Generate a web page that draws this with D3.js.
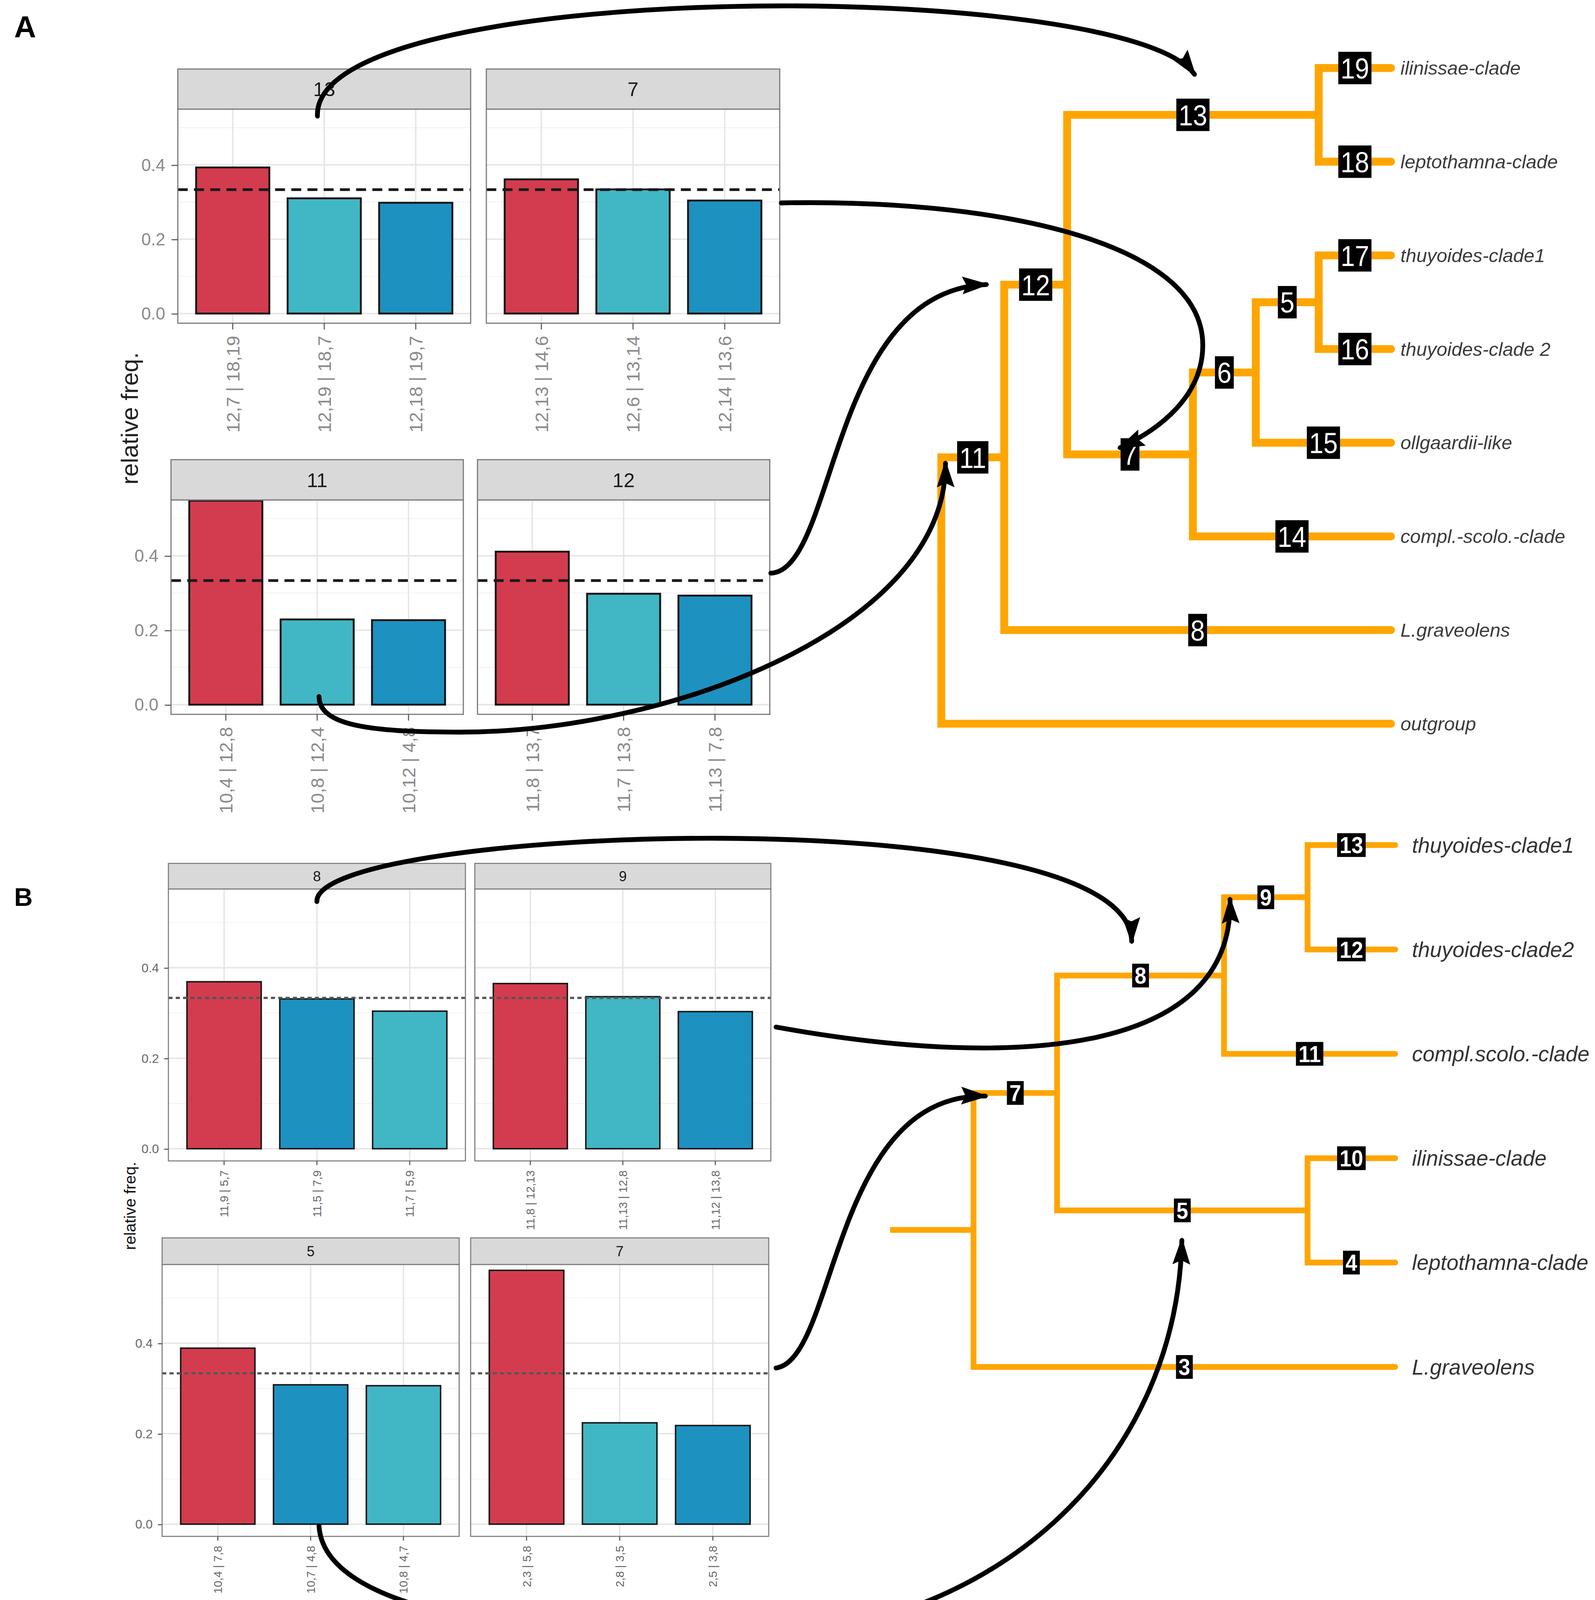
<!DOCTYPE html>
<html><head><meta charset="utf-8">
<script src="https://cdn.jsdelivr.net/npm/d3@7"></script>
<style>html,body{margin:0;padding:0;background:#fff}svg{display:block}</style>
</head><body>
<svg id="chart" width="4083" height="4202" viewBox="0 0 1525 1569.4"></svg>
<script>
// ================= DATA =================
const expectedFreq = 1 / 3;
const yTicks = [0, 0.2, 0.4];
const yMinorTicks = [0.1, 0.3, 0.5];

// Panel A bar facets
const titlesA = ["13", "7", "11", "12"];
const labelsA = [
  ["12,7 | 18,19", "12,19 | 18,7", "12,18 | 19,7"],
  ["12,13 | 14,6", "12,6 | 13,14", "12,14 | 13,6"],
  ["10,4 | 12,8", "10,8 | 12,4", "10,12 | 4,8"],
  ["11,8 | 13,7", "11,7 | 13,8", "11,13 | 7,8"]
];
const valuesA = [
  [0.393, 0.310, 0.298],
  [0.361, 0.334, 0.304],
  [0.548, 0.229, 0.227],
  [0.411, 0.298, 0.293]
];
const seriesA = [
  ["red", "cyan", "blue"],
  ["red", "cyan", "blue"],
  ["red", "cyan", "blue"],
  ["red", "cyan", "blue"]
];

// Panel B bar facets
const titlesB = ["8", "9", "5", "7"];
const labelsB = [
  ["11,9 | 5,7", "11,5 | 7,9", "11,7 | 5,9"],
  ["11,8 | 12,13", "11,13 | 12,8", "11,12 | 13,8"],
  ["10,4 | 7,8", "10,7 | 4,8", "10,8 | 4,7"],
  ["2,3 | 5,8", "2,8 | 3,5", "2,5 | 3,8"]
];
const valuesB = [
  [0.369, 0.331, 0.304],
  [0.365, 0.336, 0.303],
  [0.389, 0.308, 0.306],
  [0.561, 0.224, 0.218]
];
const seriesB = [
  ["red", "blue", "cyan"],
  ["red", "cyan", "blue"],
  ["red", "blue", "cyan"],
  ["red", "cyan", "blue"]
];

// Trees: parent links, branch-end distance (dist), branch label, tip name
const treeA = [
  { id: "root", parent: null, dist: 0 },
  { id: "n11", parent: "root", dist: 1, label: "11" },
  { id: "n12", parent: "n11", dist: 2, label: "12" },
  { id: "n13", parent: "n12", dist: 6, label: "13" },
  { id: "t19", parent: "n13", label: "19", name: "ilinissae-clade" },
  { id: "t18", parent: "n13", label: "18", name: "leptothamna-clade" },
  { id: "n7", parent: "n12", dist: 4, label: "7" },
  { id: "n6", parent: "n7", dist: 5, label: "6" },
  { id: "n5", parent: "n6", dist: 6, label: "5" },
  { id: "t17", parent: "n5", label: "17", name: "thuyoides-clade1" },
  { id: "t16", parent: "n5", label: "16", name: "thuyoides-clade 2" },
  { id: "t15", parent: "n6", label: "15", name: "ollgaardii-like" },
  { id: "t14", parent: "n7", label: "14", name: "compl.-scolo.-clade" },
  { id: "t8", parent: "n11", label: "8", name: "L.graveolens" },
  { id: "tout", parent: "root", name: "outgroup" }
];
const treeB = [
  { id: "root", parent: null, dist: 1 },
  { id: "n7", parent: "root", dist: 2, label: "7" },
  { id: "n8", parent: "n7", dist: 4, label: "8" },
  { id: "n9", parent: "n8", dist: 5, label: "9" },
  { id: "t13", parent: "n9", label: "13", name: "thuyoides-clade1" },
  { id: "t12", parent: "n9", label: "12", name: "thuyoides-clade2" },
  { id: "t11", parent: "n8", label: "11", name: "compl.scolo.-clade" },
  { id: "n5", parent: "n7", dist: 5, label: "5" },
  { id: "t10", parent: "n5", label: "10", name: "ilinissae-clade" },
  { id: "t4", parent: "n5", label: "4", name: "leptothamna-clade" },
  { id: "t3", parent: "root", label: "3", name: "L.graveolens" }
];

// ================= STYLE / LAYOUT =================
const colors = { red: "#D33C4E", cyan: "#41B6C4", blue: "#1D91C0" };
const FONT = "'Liberation Sans', Arial, Helvetica, sans-serif";

const layoutA = [
  { x0: 170, x1: 450, top: 66, strip: 104.3, bottom: 309, yAxis: true },
  { x0: 465, x1: 745.5, top: 66, strip: 104.3, bottom: 309, yAxis: false },
  { x0: 163.5, x1: 443, top: 439.5, strip: 478, bottom: 683, yAxis: true },
  { x0: 456.5, x1: 736, top: 439.5, strip: 478, bottom: 683, yAxis: false }
];
const layoutB = [
  { x0: 161, x1: 445, top: 825.5, strip: 850, bottom: 1110, yAxis: true },
  { x0: 454, x1: 737, top: 825.5, strip: 850, bottom: 1110, yAxis: false },
  { x0: 155, x1: 439, top: 1183.6, strip: 1209, bottom: 1469, yAxis: true },
  { x0: 450, x1: 735, top: 1183.6, strip: 1209, bottom: 1469, yAxis: false }
];
const styleA = {
  domain: [-0.026, 0.55], barStroke: 1.8, border: 1.1,
  stripFont: 19, yFont: 16.5, xFont: 17.6, xTick: 6, xPad: 6, yTick: 6, yPad: 6,
  tickColor: "#8a8a8a", dash: "9.5,6", dashW: 2.6, dashColor: "#1a1a1a"
};
const styleB = {
  domain: [-0.027, 0.574], barStroke: 1.4, border: 1,
  stripFont: 13.5, yFont: 12, xFont: 11, xTick: 4, xPad: 5, yTick: 4, yPad: 5,
  tickColor: "#666", dash: "4,3", dashW: 2.1, dashColor: "#555"
};
const treeStyleA = {
  xRange: [900, 1330], tipDist: 7.15, yRange: [65, 692], lineW: 7.5, stem: false,
  boxH: 31, boxFont: 28, boxWeight: "normal", boxSx: 0.88, boxPad: 4.3,
  leafFont: 18.3, leafDx: 9, leafColor: "#3a3a3a"
};
const treeStyleB = {
  xRange: [851, 1334], tipDist: 6.05, yRange: [808, 1307], lineW: 5.5, stem: true,
  boxH: 22.7, boxFont: 22, boxWeight: "bold", boxSx: 0.92, boxPad: 4.8,
  leafFont: 20.5, leafDx: 16, leafColor: "#333"
};
const ORANGE = "#FFA500";

// annotation arrows: start point, then cubic segments (ctrl1, ctrl2, end)
const arrows = [
  [[303.5, 111], [298, -22], [1075, -22], [1142, 71]],
  [[747, 194], [950, 190], [1150, 230], [1150, 330], [1150, 378], [1110, 410], [1071, 428]],
  [[737, 548], [800, 545], [792, 278], [943, 272]],
  [[305, 666], [305, 695], [360, 700], [440, 700], [640, 700], [905, 600], [904, 443]],
  [[303, 862], [300, 790], [1080, 760], [1082, 900]],
  [[742, 982], [980, 1025], [1180, 1005], [1176, 860]],
  [[742, 1308], [800, 1300], [795, 1045], [942, 1048]],
  [[305, 1459], [310, 1540], [500, 1566], [700, 1566], [950, 1566], [1125, 1400], [1130, 1186]]
];

// ================= DRAW =================
const svg = d3.select("#chart");
svg.append("rect").attr("width", 1525).attr("height", 1569.4).attr("fill", "#fff");

const defs = svg.append("defs");
defs.append("marker").attr("id", "ah")
  .attr("viewBox", "0 -9 26 18").attr("refX", 23).attr("refY", 0)
  .attr("markerWidth", 26).attr("markerHeight", 18)
  .attr("markerUnits", "userSpaceOnUse").attr("orient", "auto")
  .append("path").attr("d", "M0,-8.5L26,0L0,8.5L4,0Z").attr("fill", "#000");

function drawFacet(root, lay, title, labels, values, series, st) {
  const g = root.append("g");
  const x = d3.scaleBand().domain(labels).range([lay.x0, lay.x1]).paddingInner(0.2).paddingOuter(0.2);
  const y = d3.scaleLinear().domain(st.domain).range([lay.bottom, lay.strip]);
  const W = lay.x1 - lay.x0;

  g.append("rect").attr("x", lay.x0).attr("y", lay.strip).attr("width", W)
    .attr("height", lay.bottom - lay.strip).attr("fill", "#fff");
  g.selectAll("line.gmin").data(yMinorTicks).join("line").attr("class", "gmin")
    .attr("x1", lay.x0).attr("x2", lay.x1).attr("y1", d => y(d)).attr("y2", d => y(d))
    .attr("stroke", "#f2f2f2").attr("stroke-width", 0.8);
  g.selectAll("line.gmaj").data(yTicks).join("line").attr("class", "gmaj")
    .attr("x1", lay.x0).attr("x2", lay.x1).attr("y1", d => y(d)).attr("y2", d => y(d))
    .attr("stroke", "#e6e6e6").attr("stroke-width", 1.4);
  g.selectAll("line.gx").data(labels).join("line").attr("class", "gx")
    .attr("x1", d => x(d) + x.bandwidth() / 2).attr("x2", d => x(d) + x.bandwidth() / 2)
    .attr("y1", lay.strip).attr("y2", lay.bottom)
    .attr("stroke", "#e6e6e6").attr("stroke-width", 1.4);

  const rows = labels.map((lab, i) => ({ lab, v: values[i], s: series[i] }));
  g.selectAll("rect.bar").data(rows).join("rect").attr("class", "bar")
    .attr("x", d => x(d.lab)).attr("width", x.bandwidth())
    .attr("y", d => y(d.v)).attr("height", d => y(0) - y(d.v))
    .attr("fill", d => colors[d.s]).attr("stroke", "#151515").attr("stroke-width", st.barStroke);

  g.append("line").attr("x1", lay.x0).attr("x2", lay.x1)
    .attr("y1", y(expectedFreq)).attr("y2", y(expectedFreq))
    .attr("stroke", st.dashColor).attr("stroke-width", st.dashW).attr("stroke-dasharray", st.dash);

  g.append("rect").attr("x", lay.x0).attr("y", lay.strip).attr("width", W)
    .attr("height", lay.bottom - lay.strip).attr("fill", "none")
    .attr("stroke", "#7a7a7a").attr("stroke-width", st.border);

  // strip
  g.append("rect").attr("x", lay.x0).attr("y", lay.top).attr("width", W)
    .attr("height", lay.strip - lay.top).attr("fill", "#d9d9d9")
    .attr("stroke", "#7a7a7a").attr("stroke-width", st.border);
  g.append("text").attr("x", (lay.x0 + lay.x1) / 2).attr("y", (lay.top + lay.strip) / 2)
    .attr("dy", "0.36em").attr("text-anchor", "middle")
    .attr("font-family", FONT).attr("font-size", st.stripFont).attr("fill", "#1a1a1a").text(title);

  // x axis
  const ax = g.append("g").attr("transform", `translate(0,${lay.bottom})`)
    .call(d3.axisBottom(x).tickSize(st.xTick).tickPadding(0));
  ax.select(".domain").remove();
  ax.attr("font-family", FONT).attr("font-size", st.xFont);
  ax.selectAll(".tick line").attr("stroke", "#555").attr("stroke-width", 1);
  ax.selectAll(".tick text")
    .attr("transform", "rotate(-90)")
    .attr("x", -(st.xTick + st.xPad)).attr("y", 0).attr("dy", "0.36em")
    .attr("text-anchor", "end").attr("fill", st.tickColor);

  if (lay.yAxis) {
    const ay = g.append("g").attr("transform", `translate(${lay.x0},0)`)
      .call(d3.axisLeft(y).tickValues(yTicks).tickFormat(d3.format(".1f")).tickSize(st.yTick).tickPadding(st.yPad));
    ay.select(".domain").remove();
    ay.attr("font-family", FONT).attr("font-size", st.yFont);
    ay.selectAll(".tick line").attr("stroke", "#555").attr("stroke-width", 1);
    ay.selectAll(".tick text").attr("fill", st.tickColor);
  }
}

const gA = svg.append("g");
layoutA.forEach((lay, i) => drawFacet(gA, lay, titlesA[i], labelsA[i], valuesA[i], seriesA[i], styleA));
const gB = svg.append("g");
layoutB.forEach((lay, i) => drawFacet(gB, lay, titlesB[i], labelsB[i], valuesB[i], seriesB[i], styleB));

// y axis titles
svg.append("text").attr("transform", "translate(132,400) rotate(-90)")
  .attr("text-anchor", "middle").attr("font-family", FONT).attr("font-size", 23)
  .attr("fill", "#222").text("relative freq.");
svg.append("text").attr("transform", "translate(129.5,1153) rotate(-90)")
  .attr("text-anchor", "middle").attr("font-family", FONT).attr("font-size", 15.3)
  .attr("fill", "#111").text("relative freq.");

// panel letters
svg.append("text").attr("x", 13.5).attr("y", 36).attr("font-family", FONT)
  .attr("font-weight", "bold").attr("font-size", 29).text("A");
svg.append("text").attr("x", 13.5).attr("y", 866).attr("font-family", FONT)
  .attr("font-weight", "bold").attr("font-size", 24.5).text("B");

function drawTree(root, data, ts) {
  const h = d3.stratify().id(d => d.id).parentId(d => d.parent)(data);
  const leaves = h.leaves();
  const y = d3.scalePoint().domain(leaves.map(d => d.id)).range(ts.yRange);
  const x = d3.scaleLinear().domain([0, ts.tipDist]).range(ts.xRange);
  h.eachAfter(n => {
    n.px = x(n.children ? n.data.dist : ts.tipDist);
    n.py = n.children ? (n.children[0].py + n.children[n.children.length - 1].py) / 2 : y(n.id);
  });
  const g = root.append("g");
  const links = h.descendants().filter(n => n.parent);
  g.selectAll("path.br").data(links).join("path").attr("class", "br")
    .attr("d", n => `M${n.parent.px},${n.parent.py}V${n.py}H${n.px}`)
    .attr("fill", "none").attr("stroke", ORANGE).attr("stroke-width", ts.lineW)
    .attr("stroke-linejoin", "miter").attr("stroke-linecap", "round");
  if (ts.stem) {
    g.append("path").attr("d", `M${x(0)},${h.py}H${h.px}`)
      .attr("fill", "none").attr("stroke", ORANGE).attr("stroke-width", ts.lineW).attr("stroke-linecap", "butt");
  }
  // branch labels
  const lab = g.selectAll("g.nl").data(links.filter(n => n.data.label)).join("g").attr("class", "nl");
  lab.each(function (n) {
    const cx = (n.parent.px + n.px) / 2, cy = n.py;
    const sel = d3.select(this);
    const t = sel.append("text")
      .attr("transform", `translate(${cx},${cy + ts.boxFont * 0.358}) scale(${ts.boxSx},1)`)
      .attr("text-anchor", "middle").attr("font-family", FONT).attr("font-weight", ts.boxWeight)
      .attr("font-size", ts.boxFont).attr("fill", "#fff").text(n.data.label);
    const w = t.node().getComputedTextLength() * ts.boxSx + ts.boxPad;
    sel.insert("rect", "text").attr("x", cx - w / 2).attr("y", cy - ts.boxH / 2)
      .attr("width", w).attr("height", ts.boxH).attr("fill", "#000");
  });
  // tip labels
  g.selectAll("text.tip").data(leaves).join("text").attr("class", "tip")
    .attr("x", n => n.px + ts.leafDx).attr("y", n => n.py).attr("dy", "0.35em")
    .attr("font-family", FONT).attr("font-style", "italic").attr("font-size", ts.leafFont)
    .attr("fill", ts.leafColor).text(n => n.data.name);
}
drawTree(svg, treeA, treeStyleA);
drawTree(svg, treeB, treeStyleB);

// arrows (cubic bezier annotations)
function arrowPath(pts) {
  const p = d3.path();
  p.moveTo(pts[0][0], pts[0][1]);
  for (let i = 1; i + 2 < pts.length; i += 3) {
    p.bezierCurveTo(pts[i][0], pts[i][1], pts[i + 1][0], pts[i + 1][1], pts[i + 2][0], pts[i + 2][1]);
  }
  return p.toString();
}
svg.append("g").selectAll("path").data(arrows).join("path")
  .attr("d", d => arrowPath(d)).attr("fill", "none").attr("stroke", "#000")
  .attr("stroke-width", 4.6).attr("stroke-linecap", "round").attr("marker-end", "url(#ah)");
</script>
</body></html>
